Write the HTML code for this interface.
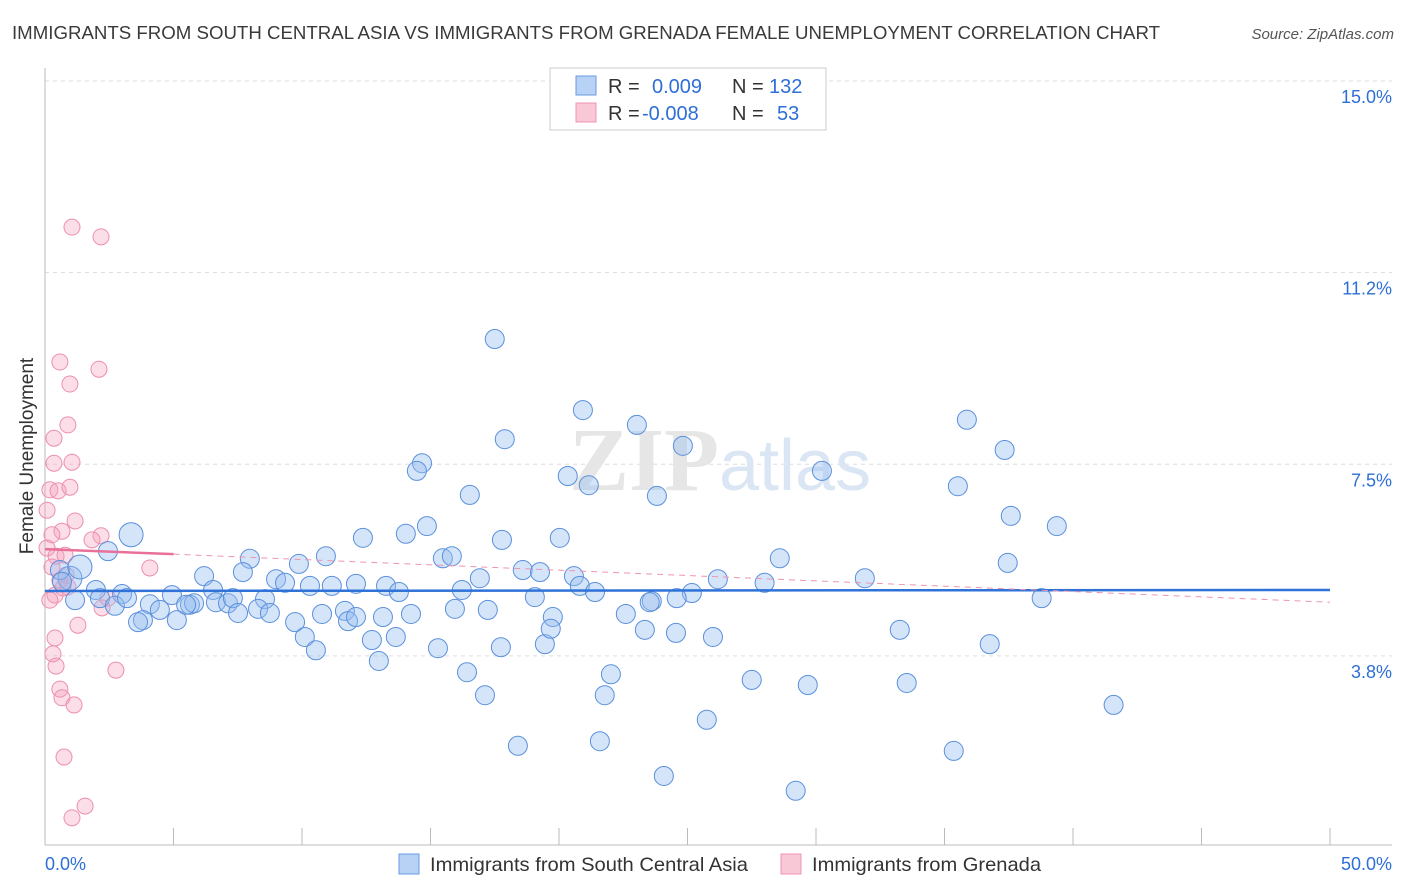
<!DOCTYPE html>
<html><head><meta charset="utf-8">
<style>
body{margin:0;background:#fff;font-family:"Liberation Sans",sans-serif;}
</style></head>
<body>
<svg id="chart" width="1406" height="892" xmlns="http://www.w3.org/2000/svg" style="display:block">
<text x="12" y="39" font-size="18" fill="#3a3a3a" textLength="1148" lengthAdjust="spacingAndGlyphs">IMMIGRANTS FROM SOUTH CENTRAL ASIA VS IMMIGRANTS FROM GRENADA FEMALE UNEMPLOYMENT CORRELATION CHART</text>
<text x="1394" y="39" font-size="15" fill="#555" text-anchor="end" font-style="italic">Source: ZipAtlas.com</text>
<g id="grid"></g>
<text x="720" y="490" font-size="90" text-anchor="middle" fill="#e6e6e6" font-family="Liberation Serif,serif" font-weight="bold">ZIP<tspan fill="#dbe6f4" font-family="Liberation Sans,sans-serif" font-weight="normal" font-size="72">atlas</tspan></text>
<g id="pts"></g>
<g id="trends"></g>
<text transform="translate(33,456) rotate(-90)" font-size="19" fill="#333" text-anchor="middle">Female Unemployment</text>
<g>
<rect x="550" y="68" width="276" height="62" fill="#fff" stroke="#ccc"/>
<rect x="576" y="76" width="20" height="19" fill="#b8d2f6" stroke="#6a9ae0"/>
<rect x="576" y="103" width="20" height="19" fill="#f8c8d6" stroke="#ee94b0"/>
<text x="608" y="93" font-size="20" fill="#333">R = <tspan fill="#2d6fd6" x="652">0.009</tspan><tspan x="732" fill="#333">N = </tspan><tspan fill="#2d6fd6" x="769">132</tspan></text>
<text x="608" y="120" font-size="20" fill="#333">R = <tspan fill="#2d6fd6" x="642">-0.008</tspan><tspan x="732" fill="#333">N = </tspan><tspan fill="#2d6fd6" x="777">53</tspan></text>
</g>
<g>
<rect x="399" y="854" width="20" height="20" fill="#b8d2f6" stroke="#6a9ae0"/>
<text x="430" y="871" font-size="19.5" fill="#333" textLength="318" lengthAdjust="spacingAndGlyphs">Immigrants from South Central Asia</text>
<rect x="781" y="854" width="20" height="20" fill="#f8c8d6" stroke="#ee94b0"/>
<text x="812" y="871" font-size="19.5" fill="#333" textLength="229" lengthAdjust="spacingAndGlyphs">Immigrants from Grenada</text>
</g>
</svg>
<script>
const yTicks=[3.8,7.5,11.2,15.0];
const yTickValues=[3.75,7.5,11.25,15];
const xTickLabels=["0.0%","50.0%"];
const blueX=[17.5,20.93,17.89,23.03,24.82,35.87,37.34,14.67,14.47,30.23,16.53,20.34,21.16,23.81,35.52,37.58,39.37,14.86,14.04,12.37,17.78,20.03,3.35,2.45,7.97,10.93,9.88,15.48,15.83,28.59,37.46,7.70,6.19,8.99,9.34,10.31,11.16,12.10,13.27,13.77,16.92,18.59,19.26,20.58,20.81,21.40,26.18,28.0,31.9,25.17,24.58,23.61,19.06,16.22,3.0,1.98,0.97,0.58,1.36,2.14,2.72,3.19,4.08,4.94,5.64,6.54,6.65,7.12,7.31,8.56,8.29,7.51,8.75,5.80,4.47,3.81,5.13,3.62,5.49,9.73,10.78,11.67,11.79,12.10,13.15,14.24,15.95,17.23,19.76,22.6,23.53,10.11,10.54,12.72,13.65,15.29,17.74,19.45,19.68,23.34,24.55,25.99,33.26,36.76,38.78,12.99,16.42,17.12,22.02,21.78,27.5,29.68,33.53,41.58,25.75,18.40,21.59,35.36,24.08,29.21,1.17,0.66];
const blueY=[9.95,8.56,7.99,8.27,7.86,8.37,7.78,7.52,7.37,7.37,6.90,7.27,7.09,6.88,7.07,6.49,6.29,6.29,6.14,6.06,6.02,6.06,6.12,5.80,5.65,5.70,5.55,5.66,5.70,5.66,5.57,5.39,5.31,5.25,5.18,5.12,5.12,5.16,5.12,5.0,5.27,5.43,5.39,5.31,5.12,5.0,5.25,5.18,5.27,4.98,4.88,4.82,4.90,5.04,4.96,5.04,5.27,5.43,5.49,4.88,4.73,4.88,4.76,4.94,4.75,5.04,4.80,4.78,4.88,4.86,4.67,4.59,4.59,4.78,4.65,4.45,4.45,4.41,4.75,4.41,4.57,4.63,4.43,4.51,4.51,4.57,4.67,4.65,4.51,4.57,4.80,4.12,3.86,4.06,4.12,3.90,3.92,3.98,4.28,4.26,4.20,4.12,4.26,3.98,4.88,3.65,3.43,2.98,3.39,2.98,3.28,3.18,3.22,2.79,2.50,1.99,2.08,1.89,1.40,1.11,4.84,5.20];
const pinkX=[1.05,2.18,0.58,2.10,0.97,0.89,0.35,0.35,1.05,0.19,0.51,0.97,0.08,1.17,0.66,0.27,0.08,0.43,0.78,2.18,1.83,4.08,0.27,0.58,0.89,0.39,0.70,2.45,2.22,1.28,0.39,0.31,0.43,0.58,2.76,0.66,1.13,0.74,1.56,1.05,0.19,0.82];
const pinkY=[12.14,11.95,9.50,9.36,9.07,8.27,8.01,7.52,7.54,7.0,6.98,7.05,6.60,6.39,6.19,6.12,5.86,5.70,5.72,6.10,6.02,5.47,5.49,5.23,5.10,4.94,5.08,4.88,4.69,4.35,4.10,3.79,3.55,3.10,3.47,2.93,2.79,1.77,0.81,0.58,4.84,5.33];
const blueTrend=[5.02,5.04];
const pinkTrend=[5.84,5.74,4.80];
const NS="http://www.w3.org/2000/svg";
const X=v=>45+v/50*1285;
const Y=v=>81+(15-v)*51.1;
function mk(tag,attrs,parent){const e=document.createElementNS(NS,tag);for(const k in attrs)e.setAttribute(k,attrs[k]);parent.appendChild(e);return e;}
const grid=document.getElementById('grid');
yTickValues.forEach((v,i)=>{
 const l=mk('line',{x1:45,x2:1392,y1:Y(v),y2:Y(v),stroke:'#ddd','stroke-dasharray':'4,4'},grid);
 
 
 const t=mk('text',{x:1392,y:Y(v)+22,'font-size':18,fill:'#2d6fd6','text-anchor':'end'},grid);
 t.textContent=yTicks[i].toFixed(1)+'%';
 
 
});
const ax=mk('line',{x1:45,x2:45,y1:68,y2:845,stroke:'#bbb'},grid);


const bx=mk('line',{x1:45,x2:1392,y1:845,y2:845,stroke:'#bbb'},grid);


for(let i=0;i<=10;i++){
 const tk=mk('line',{x1:X(i*5),x2:X(i*5),y1:828,y2:845,stroke:'#bbb'},grid);
 
 
}
[[0,'start',45],[1,'end',1392]].forEach(([i,a,x])=>{
 const t=mk('text',{x:x,y:870,'font-size':18,fill:'#2d6fd6','text-anchor':a},grid);
 t.textContent=xTickLabels[i];
 
 
});
const pts=document.getElementById('pts');
pinkX.forEach((x,i)=>{
 const c=mk('circle',{cx:X(x),cy:Y(pinkY[i]),r:8,fill:'rgba(244,160,188,0.35)',stroke:'#ee8fae','stroke-width':1},pts);
 
 
});
blueX.forEach((x,i)=>{
 const big=(i===56||i===58||i===22)?12:9.5;
 const c=mk('circle',{cx:X(x),cy:Y(blueY[i]),r:big,fill:'rgba(150,190,240,0.4)',stroke:'#5b90dc','stroke-width':1},pts);
 
 
});
const tr=document.getElementById('trends');
const bl=mk('line',{x1:X(0),x2:X(50),y1:Y(blueTrend[0]),y2:Y(blueTrend[1]),stroke:'#2f72d8','stroke-width':2.5},tr);


const pl=mk('line',{x1:X(0),x2:X(5),y1:Y(pinkTrend[0]),y2:Y(pinkTrend[1]),stroke:'#e8709a','stroke-width':2.5},tr);


const pd=mk('line',{x1:X(5),x2:X(50),y1:Y(pinkTrend[1]),y2:Y(pinkTrend[2]),stroke:'#ee94b0','stroke-width':1,'stroke-dasharray':'6,5'},tr);


</script>
</body></html>
